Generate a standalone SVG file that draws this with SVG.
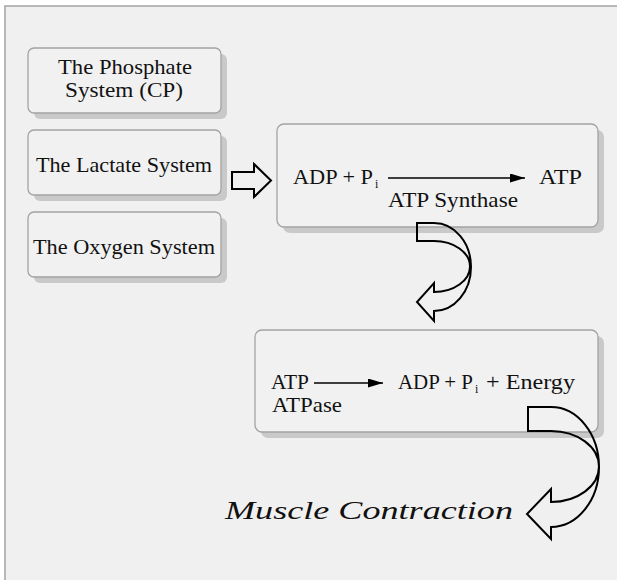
<svg xmlns="http://www.w3.org/2000/svg" width="617" height="580" viewBox="0 0 617 580">
  <defs>
    <style>
      .box { fill: #f1f1f1; stroke: #a3a3a3; stroke-width: 1.3; }
      .shadow { fill: #c9c9c9; }
      .t { font-family: "Liberation Serif", "Times New Roman", serif; font-size: 21px; fill: #111; }
      .sub { font-family: "Liberation Serif", "Times New Roman", serif; font-size: 12px; fill: #111; }
      .it { font-family: "Liberation Serif", "Times New Roman", serif; font-size: 26px; font-style: italic; fill: #111; }
      .hollow { fill: none; stroke: #000; stroke-width: 2; stroke-linejoin: miter; }
      .rx { stroke: #000; stroke-width: 1.5; fill: none; }
    </style>
    <marker id="ah" markerUnits="userSpaceOnUse" markerWidth="16" markerHeight="10" refX="15" refY="4.5" orient="auto">
      <path d="M0,0 L15,4.5 L0,9 Z" fill="#000"/>
    </marker>
  </defs>

  <rect x="0" y="0" width="617" height="580" fill="#ffffff"/>
  <rect x="5" y="6" width="640" height="600" fill="#f0f0f0" stroke="#a8a8a8" stroke-width="1.6"/>

  <g id="phosphate">
    <rect class="shadow" x="34" y="54" width="193" height="65" rx="6"/>
    <rect class="box" x="28" y="48" width="193" height="65" rx="6"/>
    <text class="t" x="58" y="74" textLength="134" lengthAdjust="spacingAndGlyphs">The Phosphate</text>
    <text class="t" x="65" y="97" textLength="118" lengthAdjust="spacingAndGlyphs">System (CP)</text>
  </g>

  <g id="lactate">
    <rect class="shadow" x="34" y="136" width="193" height="65" rx="6"/>
    <rect class="box" x="28" y="130" width="193" height="65" rx="6"/>
    <text class="t" x="36" y="172" textLength="176" lengthAdjust="spacingAndGlyphs">The Lactate System</text>
  </g>

  <g id="oxygen">
    <rect class="shadow" x="34" y="218" width="193" height="65" rx="6"/>
    <rect class="box" x="28" y="212" width="193" height="65" rx="6"/>
    <text class="t" x="33" y="254" textLength="182" lengthAdjust="spacingAndGlyphs">The Oxygen System</text>
  </g>

  <g id="synthase">
    <rect class="shadow" x="283" y="130" width="321" height="103" rx="7"/>
    <rect class="box" x="277" y="124" width="321" height="103" rx="7"/>
    <text class="t" x="293" y="184" textLength="80" lengthAdjust="spacingAndGlyphs">ADP + P</text>
    <text class="sub" x="375" y="188">i</text>
    <line class="rx" x1="388" y1="178" x2="525" y2="178" marker-end="url(#ah)"/>
    <text class="t" x="539" y="184" textLength="43" lengthAdjust="spacingAndGlyphs">ATP</text>
    <text class="t" x="388" y="207" textLength="130" lengthAdjust="spacingAndGlyphs">ATP Synthase</text>
  </g>

  <g id="atpase">
    <rect class="shadow" x="261" y="336" width="343" height="102" rx="7"/>
    <rect class="box" x="255" y="330" width="343" height="102" rx="7"/>
    <text class="t" x="271" y="389" textLength="38" lengthAdjust="spacingAndGlyphs">ATP</text>
    <line class="rx" x1="314" y1="383" x2="383" y2="383" marker-end="url(#ah)"/>
    <text class="t" x="398" y="389" textLength="75" lengthAdjust="spacingAndGlyphs">ADP + P</text>
    <text class="sub" x="475" y="393">i</text>
    <text class="t" x="486" y="389" textLength="89" lengthAdjust="spacingAndGlyphs">+ Energy</text>
    <text class="t" x="272" y="412" textLength="70" lengthAdjust="spacingAndGlyphs">ATPase</text>
  </g>

  <g id="muscle">
    <text class="it" x="225" y="519" textLength="288" lengthAdjust="spacingAndGlyphs">Muscle Contraction</text>
  </g>

  <g id="connectors">
    <path class="hollow" d="M232 172 L254 172 L254 164 L271 180.5 L254 197 L254 189 L232 189 Z"/>
    <path class="hollow" d="M417 223 L434 223 A37 44 0 0 1 434 311 L434 321 L417 302 L434 283 L434 292 A36 25.5 0 0 0 434 241 L417 241 Z"/>
    <path class="hollow" d="M528 407 L551 407 A48 60 0 0 1 551 527 L551 539 L527 514 L551 489 L551 502 A48 35.5 0 0 0 551 431 L528 431 Z"/>
  </g>
</svg>
